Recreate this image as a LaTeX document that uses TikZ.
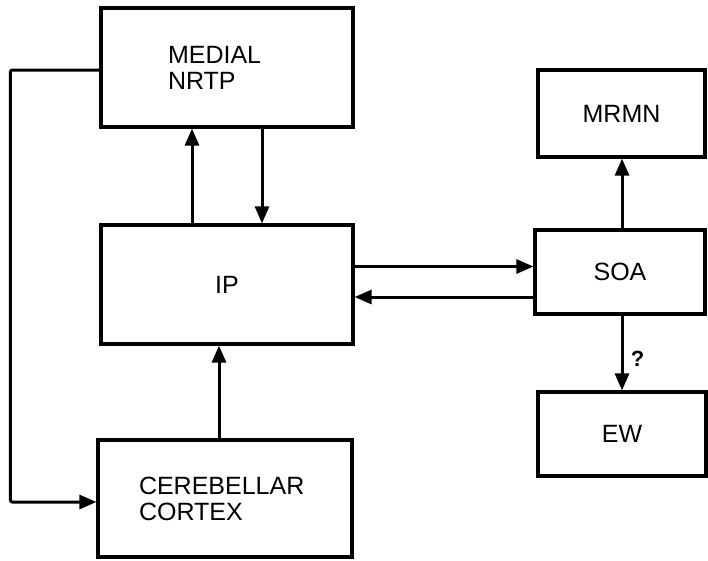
\documentclass[tikz,border=0pt]{standalone}
\usepackage{fontspec}
\setmainfont{Liberation Sans}
\usetikzlibrary{arrows.meta}
\begin{document}
\begin{tikzpicture}[x=1pt,y=-1pt,
  box/.style={draw, line width=3.2pt, rectangle, inner sep=0pt,
    font=\fontsize{25}{26}\selectfont},
  link/.style={line width=3pt, -{Triangle[length=17pt,width=14pt]}}]
  \useasboundingbox (0,0) rectangle (708,560);
  % left column
  \node[box, minimum width=252pt, minimum height=119pt, text width=118pt, align=left]
    (nrtp) at (227,67.5) {MEDIAL\\NRTP};
  \node[box, minimum width=252pt, minimum height=119pt] (ip) at (227,284.5) {IP};
  \node[box, minimum width=254pt, minimum height=117pt, text width=172pt, align=left]
    (cc) at (225,498.5) {CEREBELLAR\\CORTEX};
  % right column
  \node[box, minimum width=167pt, minimum height=87pt] (mrmn) at (621.5,113.5) {MRMN};
  \node[box, minimum width=170pt, minimum height=84pt] (soa) at (620,272) {SOA};
  \node[box, minimum width=168pt, minimum height=84pt] (ew) at (622,434) {EW};
  % connections
  \draw[link] ([xshift=-35pt]ip.north) -- ([xshift=-35pt]nrtp.south);
  \draw[link] ([xshift=35pt]nrtp.south) -- ([xshift=35pt]ip.north);
  \draw[link] ([xshift=-6pt]cc.north) -- ([xshift=-6pt]cc.north |- ip.south);
  \draw[link] ([yshift=18pt]ip.east) -- ([yshift=18pt]ip.east -| soa.west);
  \draw[link] ([yshift=-25pt]soa.west) -- ([yshift=-25pt]soa.west -| ip.east);
  \draw[link] ([xshift=2pt]soa.north) -- ([xshift=2pt]soa.north |- mrmn.south);
  \draw[link] ([xshift=2pt]soa.south) -- ([xshift=2pt]soa.south |- ew.north)
    node[pos=0.58, right=4pt, font=\fontsize{22}{24}\selectfont\bfseries] (q) {?};
  \draw[link, rounded corners=2pt] ([yshift=-2.5pt]nrtp.west) -- ++(-89,0)
    |- ([yshift=-3.5pt]cc.west);
\end{tikzpicture}
\end{document}
